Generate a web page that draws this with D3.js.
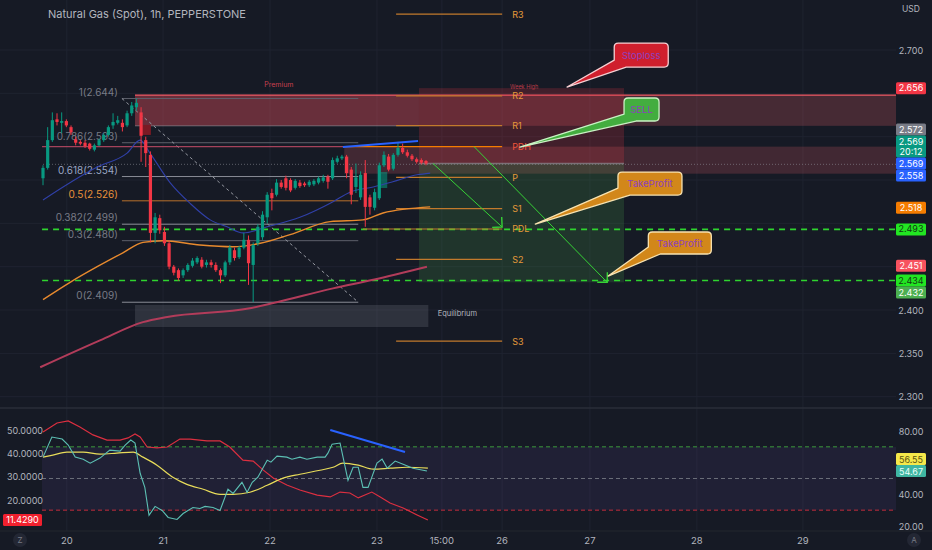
<!DOCTYPE html>
<html>
<head>
<meta charset="utf-8">
<script src="https://cdn.jsdelivr.net/npm/d3@7"></script>
<style>
  html, body { margin: 0; padding: 0; background: #161a25; overflow: hidden; }
  svg { display: block; font-family: "Inter", "Noto Sans", sans-serif; }
</style>
</head>
<body>
<div id="wrapper"></div>
<script>
// ---- data: hourly candles (bar index 0..82)
const opens  = [2.552,2.564,2.596,2.620,2.616,2.618,2.611,2.597,2.594,2.593,2.592,2.585,2.590,2.596,2.602,2.613,2.616,2.616,2.613,2.627,2.634,2.628,2.596,2.579,2.489,2.506,2.490,2.477,2.450,2.446,2.440,2.446,2.451,2.455,2.458,2.452,2.455,2.452,2.446,2.440,2.455,2.469,2.461,2.472,2.481,2.452,2.477,2.484,2.507,2.535,2.533,2.547,2.552,2.550,2.541,2.547,2.546,2.544,2.545,2.547,2.549,2.554,2.552,2.571,2.575,2.577,2.562,2.542,2.530,2.558,2.530,2.518,2.529,2.567,2.577,2.563,2.579,2.587,2.582,2.578,2.574,2.573,2.572]
const highs  = [2.567,2.611,2.628,2.627,2.628,2.620,2.613,2.600,2.596,2.596,2.593,2.592,2.598,2.604,2.613,2.627,2.624,2.620,2.630,2.640,2.644,2.634,2.600,2.583,2.512,2.510,2.496,2.480,2.452,2.448,2.448,2.454,2.460,2.462,2.461,2.458,2.458,2.455,2.448,2.457,2.475,2.472,2.474,2.489,2.486,2.478,2.499,2.514,2.536,2.540,2.551,2.550,2.555,2.552,2.551,2.550,2.548,2.550,2.551,2.554,2.556,2.556,2.576,2.578,2.579,2.579,2.565,2.569,2.560,2.573,2.533,2.540,2.570,2.583,2.580,2.581,2.594,2.592,2.585,2.580,2.576,2.575,2.573]
const lows   = [2.544,2.562,2.594,2.613,2.604,2.611,2.602,2.590,2.590,2.587,2.584,2.583,2.589,2.594,2.600,2.609,2.614,2.606,2.611,2.624,2.630,2.571,2.565,2.478,2.477,2.488,2.474,2.447,2.440,2.434,2.437,2.444,2.449,2.453,2.448,2.449,2.449,2.444,2.431,2.438,2.452,2.457,2.459,2.470,2.429,2.409,2.474,2.481,2.500,2.515,2.531,2.540,2.538,2.536,2.539,2.541,2.542,2.542,2.543,2.545,2.547,2.540,2.550,2.569,2.573,2.552,2.522,2.535,2.527,2.496,2.510,2.515,2.527,2.565,2.560,2.561,2.577,2.580,2.576,2.572,2.569,2.568,2.567]
const closes = [2.564,2.596,2.619,2.617,2.618,2.613,2.605,2.593,2.592,2.589,2.586,2.590,2.596,2.602,2.611,2.617,2.619,2.611,2.627,2.636,2.639,2.601,2.581,2.489,2.507,2.492,2.477,2.450,2.443,2.437,2.446,2.452,2.457,2.460,2.450,2.455,2.452,2.446,2.440,2.455,2.472,2.460,2.472,2.481,2.454,2.475,2.496,2.510,2.533,2.529,2.547,2.542,2.541,2.538,2.549,2.543,2.544,2.548,2.549,2.552,2.553,2.548,2.573,2.575,2.577,2.558,2.533,2.553,2.556,2.519,2.519,2.536,2.567,2.579,2.562,2.579,2.587,2.582,2.578,2.574,2.571,2.570,2.569]

// moving averages, read at sample bars
const blueMaBars = [0, 4.3, 11.6, 18, 20.8, 22.9, 27.2, 31.5, 35.8, 39.4, 42.8, 48, 55, 62.1, 65.7, 70.7, 74.9, 80.1, 82.9]
const blueMaVals = [2.527, 2.542, 2.565, 2.581, 2.596, 2.581, 2.547, 2.523, 2.504, 2.496, 2.489, 2.496, 2.507, 2.525, 2.536, 2.542, 2.548, 2.556, 2.558]
const orangeMaBars = [0, 5.8, 11.6, 17.1, 21.4, 25.7, 33.6, 40.7, 46.5, 52.9, 61.5, 68.5, 72.8, 82.9]
const orangeMaVals = [2.412, 2.432, 2.450, 2.466, 2.478, 2.480, 2.475, 2.473, 2.477, 2.487, 2.502, 2.504, 2.512, 2.519]
const redMaBars = [-0.6, 12.2, 21.4, 26.6, 44.3, 49.3, 62.1, 70.7, 82.2]
const redMaVals = [2.334, 2.365, 2.386, 2.392, 2.402, 2.408, 2.425, 2.435, 2.450]

// fib retracement
const fibLabels = ['1(2.644)', '0.786(2.593)', '0.618(2.554)', '0.5(2.526)', '0.382(2.499)', '0.3(2.480)', '0(2.409)']
const fibPrices = [2.644, 2.593, 2.554, 2.526, 2.499, 2.480, 2.409]
const fibBars = [16.9, 67.5]

// pivots
const pivotNames  = ['R3', 'R2', 'R1', 'PDH', 'P', 'S1', 'PDL', 'S2', 'S3']
const pivotPrices = [2.7415, 2.647, 2.6127, 2.5885, 2.553, 2.517, 2.4935, 2.4585, 2.3642]
const pivotStart  = [75.6, 75.6, 75.6, 64.5, 75.6, 75.6, 68.5, 75.6, 75.6]
const pivotEnd = 98.3

// levels and trade setup
const targetLevels = [2.493, 2.434]
const entryPrice = 2.569
const stopPrice = 2.656
const targetPrice = 2.432
const setupBars = [80.5, 124.4]

// price tags on right axis (top to bottom)
const tagValues = [2.656, 2.572, 2.569, 2.569, 2.558, 2.518, 2.493, 2.451, 2.434, 2.432]
const tagSub    = ['', '', '20:12', '', '', '', '', '', '', '']
const priceTicks = [2.300, 2.350, 2.400, 2.450, 2.500, 2.550, 2.600, 2.650, 2.700]

// time axis
const dayTickBars = [5.1, 25.7, 48.6, 71.5, 85.4, 98.3, 117.1, 140, 162.7]
const dayTickLabels = ['20', '21', '22', '23', '15:00', '26', '27', '28', '29']

// lower pane: oscillator (left scale) and RSI + MA (right scale)
const oscBars = [0, 3, 5.4, 7.9, 10.7, 13.7, 16.5, 18.2, 19.7, 20.8, 22.3, 24.4, 26.6, 29.3, 31.5, 35.1, 37.9, 40, 42.8, 45, 47.1, 49.3, 52.2, 55, 58.7, 61.5, 63.6, 65.7, 67.5, 70.4, 72.2, 74.3, 77.1, 80.1, 82.4]
const oscVals = [49.1, 53.0, 53.9, 51.3, 47.9, 45.7, 45.7, 46.6, 48.3, 47.0, 42.7, 42.3, 42.7, 46.1, 46.1, 45.3, 45.3, 42.7, 37.1, 36.7, 32.9, 29.4, 26.4, 24.3, 22.1, 21.3, 23.4, 23.0, 20.9, 23.4, 21.3, 18.7, 16.6, 13.6, 11.4]
const rsiBars = [0, 1.9, 4.1, 5.4, 6.9, 8.6, 10.1, 12.2, 14.3, 16.5, 17.6, 18.8, 19.7, 20.8, 21.8, 22.7, 24, 25.5, 26.8, 28.7, 30, 32.1, 33.6, 34.7, 36.4, 37.9, 39.6, 40.7, 42.6, 43.7, 44.8, 46, 48, 48.8, 50.1, 52.2, 53.3, 55, 56.5, 58.7, 60.4, 61, 61.9, 63.6, 65.3, 66.4, 67.5, 68.5, 69.6, 71.5, 72.6, 73.7, 75.4, 77.1, 79.2, 82.2]
const rsiVals = [63.5, 76.2, 74.9, 71.1, 63.5, 62.2, 59.7, 62.9, 67.9, 67.3, 71.1, 74.3, 72.4, 53.3, 44.4, 26.7, 32.4, 29.8, 25.4, 24.1, 27.9, 31.7, 31.1, 32.4, 31.7, 29.8, 43.2, 40.6, 47.6, 41.3, 47.6, 50.8, 61.6, 60.3, 64.1, 63.5, 62.2, 63.5, 62.2, 63.5, 63.5, 66.0, 71.7, 72.4, 48.9, 57.1, 57.1, 44.4, 44.4, 59.7, 62.2, 56.5, 61.0, 59.0, 56.5, 54.7]
const rsiMaBars = [0, 2.1, 5.1, 8.6, 12.2, 15.8, 19.3, 21.4, 24.4, 27.8, 30.8, 34.3, 37.9, 40.7, 44.3, 48, 51.4, 55, 59.3, 62.1, 64.2, 67.5, 70.7, 74.3, 77.9, 82.4]
const rsiMaVals = [63.5, 64.8, 66.7, 66.7, 65.4, 66.0, 66.7, 63.5, 58.4, 50.8, 46.3, 43.2, 40.0, 40.0, 41.3, 45.7, 50.2, 52.7, 55.2, 57.1, 59.7, 58.4, 55.9, 56.5, 57.1, 56.5]
const oscTicks = [20, 30, 40, 50]
const rsiTicks = [20, 40, 60, 80]
const rsiTagValues = [56.55, 54.67]

function draw(){

    // 1. dimensions and scales
    const dimensions = {
        width: 932,
        height: 550,
        plotRight: 896,
        mainBottom: 408,
        lowerBottom: 531,
    }

    const x = d3.scaleLinear().domain([0, 82]).range([43, 426])
    const y = d3.scaleLinear().domain([2.3, 2.7]).range([396.7, 50])
    const rsiY = d3.scaleLinear().domain([20, 80]).range([526, 431])
    const oscY = d3.scaleLinear().domain([20, 50]).range([500, 430])
    const rightEdge = x.invert(dimensions.plotRight)

    const colors = {
        bg: '#161a25', grid: '#1f2330', text: '#b2b5be',
        up: '#089981', down: '#f23645', pivot: '#c27a2c', pivotText: '#e59a3a',
        fib: '#787b86', green: '#2fd42f'
    }

    const svg = d3.select('#wrapper').append('svg')
        .attr('width', dimensions.width)
        .attr('height', dimensions.height)

    svg.append('rect').attr('width', dimensions.width).attr('height', dimensions.height).attr('fill', colors.bg)

    const defs = svg.append('defs')
    defs.append('clipPath').attr('id', 'clipMain').append('rect')
        .attr('width', dimensions.plotRight).attr('height', dimensions.mainBottom)
    defs.append('clipPath').attr('id', 'clipLower').append('rect')
        .attr('y', dimensions.mainBottom).attr('width', dimensions.plotRight)
        .attr('height', dimensions.lowerBottom - dimensions.mainBottom)

    // 2. grid
    const grid = svg.append('g')
    grid.selectAll('line.v').data(dayTickBars).join('line')
        .attr('x1', d => x(d)).attr('x2', d => x(d))
        .attr('y1', 0).attr('y2', dimensions.lowerBottom)
        .attr('stroke', colors.grid)
    grid.selectAll('line.h').data(priceTicks).join('line')
        .attr('x1', 0).attr('x2', dimensions.plotRight)
        .attr('y1', d => y(d)).attr('y2', d => y(d))
        .attr('stroke', colors.grid)

    const main = svg.append('g').attr('clip-path', 'url(#clipMain)')

    const box = (g, b0, b1, p0, p1, fill) => g.append('rect')
        .attr('x', x(b0)).attr('width', x(b1) - x(b0))
        .attr('y', y(p0)).attr('height', y(p1) - y(p0))
        .attr('fill', fill)

    const hline = (g, b0, b1, p, stroke, w, dash) => g.append('line')
        .attr('x1', x(b0)).attr('x2', x(b1))
        .attr('y1', y(p)).attr('y2', y(p))
        .attr('stroke', stroke).attr('stroke-width', w || 1)
        .attr('stroke-dasharray', dash || null)

    // 3. zones
    box(main, 19.7, rightEdge, 2.648, 2.6125, 'rgba(242,100,110,0.22)')
    box(main, 19.7, setupBars[0], 2.648, 2.6125, 'rgba(242,70,90,0.2)')
    hline(main, 19.7, rightEdge, 2.648, '#f25a66', 1.2)
    hline(main, 19.7, setupBars[0], 2.6125, 'rgba(178,181,190,0.45)', 1)
    box(main, 64.5, rightEdge, 2.5885, 2.5573, 'rgba(242,100,110,0.2)')
    box(main, 19.7, 82.5, 2.4058, 2.3804, 'rgba(120,123,134,0.25)')
    box(main, setupBars[0], setupBars[1], stopPrice, entryPrice, 'rgba(242,54,69,0.2)')
    box(main, setupBars[0], setupBars[1], entryPrice, targetPrice, 'rgba(76,175,80,0.18)')
    hline(main, setupBars[0], setupBars[1], entryPrice, 'rgba(150,152,160,0.6)', 1.5)
    box(main, 21.2, 23.1, 2.6135, 2.602, '#7a1a24')
    box(main, 71.9, 73.7, 2.5592, 2.5408, 'rgba(8,153,129,0.55)')

    main.append('text').attr('x', x(50.5)).attr('y', y(2.657))
        .attr('text-anchor', 'middle').attr('font-size', 7).attr('fill', '#c9404f').text('Premium')
    main.append('text').attr('x', x(100.0)).attr('y', y(2.6555))
        .attr('font-size', 5.5).attr('fill', '#b83a48').text('Week High')
    main.append('text').attr('x', x(84.5)).attr('y', y(2.3933))
        .attr('font-size', 7.5).attr('fill', colors.text).text('Equilibrium')

    // 4. fib retracement
    const fibColors = ['#787b86', '#787b86', '#9aa6c4', '#e8913a', '#787b86', '#787b86', '#787b86']
    const fibLineColors = ['#5d606b', '#5d606b', '#8a8d96', '#b8712c', '#8a8d96', '#5d606b', '#8a8d96']
    const fib = main.append('g')
    fib.selectAll('line').data(fibPrices).join('line')
        .attr('x1', x(fibBars[0])).attr('x2', x(fibBars[1]))
        .attr('y1', d => y(d)).attr('y2', d => y(d))
        .attr('stroke', (d, i) => fibLineColors[i])
    fib.selectAll('text').data(fibLabels).join('text')
        .attr('x', x(fibBars[0]) - 4)
        .attr('y', (d, i) => y(fibPrices[i]) - 3)
        .attr('text-anchor', 'end').attr('font-size', 10)
        .attr('fill', (d, i) => fibColors[i])
        .text(d => d)
    fib.append('line')
        .attr('x1', x(fibBars[0])).attr('y1', y(fibPrices[0]))
        .attr('x2', x(fibBars[1])).attr('y2', y(fibPrices[6]))
        .attr('stroke', '#9598a1').attr('stroke-dasharray', '3,3').attr('stroke-width', 1)

    // 5. horizontal levels
    hline(main, -0.2, 64.5, 2.5885, 'rgba(214,80,110,0.75)', 1.3)
    hline(main, 0, rightEdge, 2.5681, 'rgba(150,152,160,0.55)', 1, '1,2')
    targetLevels.forEach(p => hline(main, -0.2, rightEdge, p, colors.green, 1.6, '6,5'))

    // pivots
    const piv = main.append('g')
    piv.selectAll('line').data(pivotPrices).join('line')
        .attr('x1', (d, i) => x(pivotStart[i])).attr('x2', x(pivotEnd))
        .attr('y1', d => y(d)).attr('y2', d => y(d))
        .attr('stroke', (d, i) => pivotNames[i] === 'PDH' ? '#f57c00' : colors.pivot)
        .attr('stroke-width', 1.2)
    piv.selectAll('text').data(pivotNames).join('text')
        .attr('x', x(pivotEnd) + 10)
        .attr('y', (d, i) => y(pivotPrices[i]) + 3.5)
        .attr('font-size', 9)
        .attr('fill', d => d === 'PDH' ? '#f0553a' : colors.pivotText)
        .text(d => d)

    // 6. moving averages
    const maLine = d3.line().x(d => x(d[0])).y(d => y(d[1])).curve(d3.curveMonotoneX)
    main.append('path').datum(d3.zip(redMaBars, redMaVals)).attr('d', maLine)
        .attr('fill', 'none').attr('stroke', '#b23c5a').attr('stroke-width', 2)
    main.append('path').datum(d3.zip(orangeMaBars, orangeMaVals)).attr('d', maLine)
        .attr('fill', 'none').attr('stroke', '#e88a2e').attr('stroke-width', 1.4)
    main.append('path').datum(d3.zip(blueMaBars, blueMaVals)).attr('d', maLine)
        .attr('fill', 'none').attr('stroke', '#3040a8').attr('stroke-width', 1.1)

    // 7. candles
    const candles = d3.range(opens.length).map(i => ({i, o: opens[i], h: highs[i], l: lows[i], c: closes[i]}))
    const cg = main.append('g')
    cg.selectAll('line').data(candles).join('line')
        .attr('x1', d => x(d.i)).attr('x2', d => x(d.i))
        .attr('y1', d => y(d.h)).attr('y2', d => y(d.l))
        .attr('stroke', d => d.c >= d.o ? colors.up : colors.down)
    cg.selectAll('rect').data(candles).join('rect')
        .attr('x', d => x(d.i) - 1.6).attr('width', 3.2)
        .attr('y', d => y(Math.max(d.o, d.c)))
        .attr('height', d => Math.max(1, Math.abs(y(d.o) - y(d.c))))
        .attr('fill', d => d.c >= d.o ? colors.up : colors.down)

    // trend line on highs
    main.append('line')
        .attr('x1', x(64.2)).attr('y1', y(2.588))
        .attr('x2', x(80.3)).attr('y2', y(2.595))
        .attr('stroke', '#2962ff').attr('stroke-width', 2)

    // 8. arrows
    const arrows = [[[83.5, entryPrice], [98.3, 2.4958]], [[92.3, 2.5885], [120.8, targetPrice]]]
    arrows.forEach(([a, b]) => {
        const x0 = x(a[0]), y0 = y(a[1]), x1 = x(b[0]), y1 = y(b[1])
        const ang = Math.atan2(y0 - y1, x0 - x1)
        main.append('line').attr('x1', x0).attr('y1', y0).attr('x2', x1).attr('y2', y1)
            .attr('stroke', '#36d236').attr('stroke-width', 1)
        const head = [ang - Math.PI / 4, ang + Math.PI / 4].map(t => [x1 + 10 * Math.cos(t), y1 + 10 * Math.sin(t)])
        main.append('path')
            .attr('d', `M${head[0][0]},${head[0][1]}L${x1},${y1}L${head[1][0]},${head[1][1]}`)
            .attr('fill', 'none').attr('stroke', '#36d236').attr('stroke-width', 1.4)
    })

    // 9. callouts
    const callouts = [
        {text: 'Stoploss', tip: [112.2, 2.6573], at: [122.3, 2.708], w: 54, h: 24, fill: '#cf1f2d', border: '#f6cfd2'},
        {text: 'SELL', tip: [102.1, 2.588], at: [124.4, 2.6446], w: 35, h: 23, fill: '#43ad3f', border: '#c9f2c4'},
        {text: 'TakeProfit', tip: [105.4, 2.4992], at: [123.1, 2.5592], w: 64, h: 23, fill: '#d2871a', border: '#f7e2b0'},
        {text: 'TakeProfit', tip: [121.0, 2.4392], at: [129.6, 2.490], w: 63, h: 22, fill: '#d2871a', border: '#f7e2b0'},
    ]
    callouts.forEach(c => {
        const x0 = x(c.at[0]), y0 = y(c.at[1]), x1 = x0 + c.w, y1 = y0 + c.h, r = 4
        const tx = x(c.tip[0]), ty = y(c.tip[1])
        const d = `M${x0 + r},${y0}H${x1 - r}Q${x1},${y0} ${x1},${y0 + r}V${y1 - r}Q${x1},${y1} ${x1 - r},${y1}` +
            `H${x0 + 12}L${tx},${ty}L${x0},${y1 - 7}V${y0 + r}Q${x0},${y0} ${x0 + r},${y0}Z`
        main.append('path').attr('d', d).attr('fill', c.fill)
            .attr('stroke', c.border).attr('stroke-width', 1.3).attr('stroke-linejoin', 'round')
        main.append('text').attr('x', (x0 + x1) / 2).attr('y', (y0 + y1) / 2 + 3.5)
            .attr('text-anchor', 'middle').attr('font-size', 9.5).attr('fill', '#8d3fbf')
            .text(c.text)
    })

    // title
    svg.append('text').attr('x', 48).attr('y', 18).attr('font-size', 11)
        .attr('fill', colors.text).text('Natural Gas (Spot), 1h, PEPPERSTONE')

    // 10. right price axis
    const placeTags = (vals, heights, anchor, scale) => {
        const ys = vals.map(v => scale(v))
        const out = ys.slice()
        for (let i = anchor - 1; i >= 0; i--) out[i] = Math.min(ys[i], out[i + 1] - (heights[i] + heights[i + 1]) / 2)
        for (let i = anchor + 1; i < vals.length; i++) out[i] = Math.max(ys[i], out[i - 1] + (heights[i] + heights[i - 1]) / 2)
        return out
    }
    // tick labels that would sit under a price tag are left out, as the chart does
    const freeOf = (tys, ths) => ty => tys.every((t, i) => Math.abs(t - ty) > ths[i] / 2 + 5)

    const tagFill = ['#f23645', '#787b86', '#089981', '#2962ff', '#2962ff', '#f57c00', '#22e622', '#f7525f', '#22e622', '#4caf50']
    const tagText = ['#fff', '#fff', '#fff', '#fff', '#fff', '#fff', '#123a12', '#fff', '#123a12', '#fff']
    const tagHeights = tagSub.map(s => s ? 22 : 12)
    const tagY = placeTags(tagValues, tagHeights, 3, y)

    const axis = svg.append('g')
    axis.append('text').attr('x', 911).attr('y', 12).attr('text-anchor', 'middle')
        .attr('font-size', 8.5).attr('fill', colors.text).text('USD')
    axis.selectAll('text.tick').data(priceTicks.filter(d => freeOf(tagY, tagHeights)(y(d)))).join('text')
        .attr('x', 911).attr('y', d => y(d) + 3.5)
        .attr('text-anchor', 'middle').attr('font-size', 9).attr('fill', colors.text)
        .text(d => d.toFixed(3))

    tagValues.forEach((v, i) => {
        const h = tagHeights[i], top = tagY[i] - h / 2
        axis.append('rect').attr('x', 896).attr('y', top).attr('width', 30).attr('height', h)
            .attr('rx', 1.5).attr('fill', tagFill[i])
        axis.append('text').attr('x', 911).attr('y', top + 9)
            .attr('text-anchor', 'middle').attr('font-size', 9).attr('fill', tagText[i])
            .text(v.toFixed(3))
        if (tagSub[i]) axis.append('text').attr('x', 911).attr('y', top + 19.5)
            .attr('text-anchor', 'middle').attr('font-size', 9).attr('fill', tagText[i])
            .text(tagSub[i])
    })

    // 11. lower pane
    svg.append('line').attr('x1', 0).attr('x2', dimensions.width)
        .attr('y1', dimensions.mainBottom).attr('y2', dimensions.mainBottom)
        .attr('stroke', '#2a2e39').attr('stroke-width', 1.5)

    const lower = svg.append('g').attr('clip-path', 'url(#clipLower)')
    lower.append('rect').attr('x', 42).attr('width', dimensions.plotRight - 42)
        .attr('y', rsiY(70)).attr('height', rsiY(30) - rsiY(70))
        .attr('fill', 'rgba(126,87,194,0.1)')
    const bandLines = [[70, '#3c9a3c'], [50, '#6a6d78'], [30, '#c22d3c']]
    bandLines.forEach(([v, c]) => lower.append('line')
        .attr('x1', 42).attr('x2', dimensions.plotRight)
        .attr('y1', rsiY(v)).attr('y2', rsiY(v))
        .attr('stroke', c).attr('stroke-dasharray', '4,3'))

    const rsiLine = d3.line().x(d => x(d[0])).y(d => rsiY(d[1]))
    const oscLine = d3.line().x(d => x(d[0])).y(d => oscY(d[1]))
    lower.append('path').datum(d3.zip(oscBars, oscVals)).attr('d', oscLine)
        .attr('fill', 'none').attr('stroke', '#dc2f40').attr('stroke-width', 1.2)
    lower.append('path').datum(d3.zip(rsiMaBars, rsiMaVals)).attr('d', rsiLine.curve(d3.curveMonotoneX))
        .attr('fill', 'none').attr('stroke', '#e8dc5a').attr('stroke-width', 1.2)
    lower.append('path').datum(d3.zip(rsiBars, rsiVals)).attr('d', d3.line().x(d => x(d[0])).y(d => rsiY(d[1])))
        .attr('fill', 'none').attr('stroke', '#5cc0b4').attr('stroke-width', 1.1)
    lower.append('line')
        .attr('x1', x(61.5)).attr('y1', rsiY(80.6))
        .attr('x2', x(77.5)).attr('y2', rsiY(66.7))
        .attr('stroke', '#2962ff').attr('stroke-width', 2)

    const lowerAxis = svg.append('g')
    lowerAxis.selectAll('text.osc').data(oscTicks).join('text')
        .attr('x', 7).attr('y', d => oscY(d) + 3.5)
        .attr('font-size', 9).attr('fill', colors.text)
        .text(d => d.toFixed(4))
    lowerAxis.append('rect').attr('x', 3).attr('y', oscY(11.429) - 6).attr('width', 39).attr('height', 12)
        .attr('rx', 1.5).attr('fill', '#f0202e')
    lowerAxis.append('text').attr('x', 22.5).attr('y', oscY(11.429) + 3.5)
        .attr('text-anchor', 'middle').attr('font-size', 9).attr('fill', '#fff').text('11.4290')

    const rsiTagY = placeTags(rsiTagValues, [12, 12], 1, rsiY)
    lowerAxis.selectAll('text.rsi').data(rsiTicks.filter(d => freeOf(rsiTagY, [12, 12])(rsiY(d)))).join('text')
        .attr('x', 911).attr('y', d => rsiY(d) + 3.5)
        .attr('text-anchor', 'middle').attr('font-size', 9).attr('fill', colors.text)
        .text(d => d.toFixed(2))
    const rsiTagFill = ['#f5e84a', '#3fb6a2'], rsiTagText = ['#5a5210', '#eafffb']
    rsiTagValues.forEach((v, i) => {
        lowerAxis.append('rect').attr('x', 896).attr('y', rsiTagY[i] - 6).attr('width', 30).attr('height', 12)
            .attr('rx', 1.5).attr('fill', rsiTagFill[i])
        lowerAxis.append('text').attr('x', 911).attr('y', rsiTagY[i] + 3.5)
            .attr('text-anchor', 'middle').attr('font-size', 9).attr('fill', rsiTagText[i])
            .text(v.toFixed(2))
    })

    // 12. time axis
    svg.append('line').attr('x1', 0).attr('x2', dimensions.width)
        .attr('y1', dimensions.lowerBottom).attr('y2', dimensions.lowerBottom)
        .attr('stroke', '#22262f')
    svg.selectAll('text.day').data(dayTickLabels).join('text')
        .attr('x', (d, i) => x(dayTickBars[i])).attr('y', 544)
        .attr('text-anchor', 'middle').attr('font-size', 9.5).attr('fill', colors.text)
        .text(d => d)

    const badge = (cx, label) => {
        svg.append('circle').attr('cx', cx).attr('cy', 540).attr('r', 7).attr('fill', '#232734')
        svg.append('text').attr('x', cx).attr('y', 543).attr('text-anchor', 'middle')
            .attr('font-size', 8).attr('fill', '#787b86').text(label)
    }
    badge(20, 'Z')
    badge(914, 'A')
}

draw()
</script>
</body>
</html>
